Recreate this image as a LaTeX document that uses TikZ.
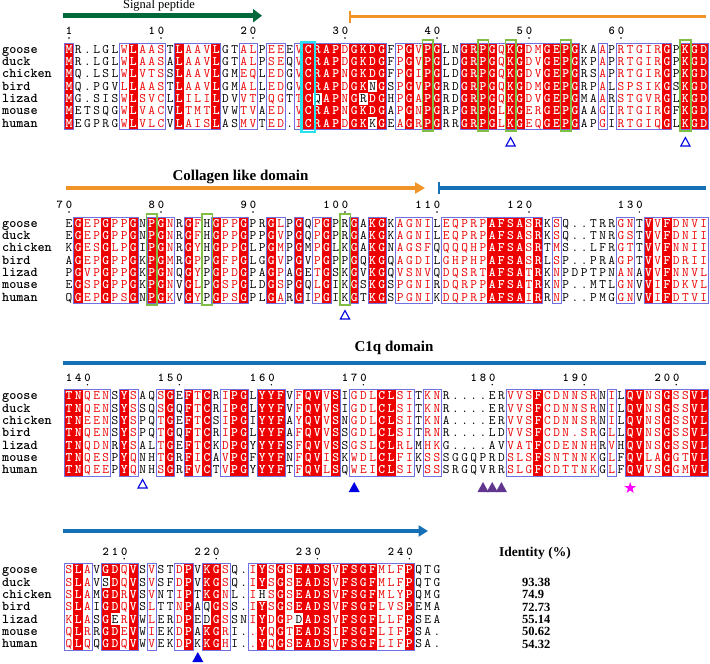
\documentclass[tikz,border=0pt]{standalone}
\usepackage{fontspec}
\setmainfont{Liberation Serif}
\usepackage{xstring}
\usetikzlibrary{arrows.meta, shapes.geometric}
\definecolor{espred}{RGB}{238,0,0}
\definecolor{frameblue}{RGB}{112,112,224}
\definecolor{sigc}{RGB}{0,105,60}
\definecolor{colc}{RGB}{240,148,40}
\definecolor{clqc}{RGB}{22,112,182}
\definecolor{boxg}{RGB}{128,190,70}
\definecolor{boxc}{RGB}{40,225,235}
\definecolor{markb}{RGB}{0,0,225}
\definecolor{markp}{RGB}{96,54,142}
\definecolor{starc}{RGB}{255,0,255}

% column / row geometry (1 unit = 1 px of the figure)
\newcommand\colx{69}
\newcommand\colw{9.2}
\newcommand\rowh{12.35}
\def\consnone{-}
\def\conssim{+}

\newcommand\seqcell[3]{%
  \StrChar{#2}{#3}[\rch]%
  \pgfmathsetmacro\cx{\colx+(#3-1)*\colw}%
  \pgfmathsetmacro\cy{\blocky+(#1-1)*\rowh}%
  \ifx\colcode\consnone
    \node[res] at (\cx,\cy) {\rch};%
  \else\ifx\colcode\conssim
    \node[res, text=espred] at (\cx,\cy) {\rch};%
  \else\ifx\rch\colcode
    \fill[espred] (\cx-\colw/2-0.15,\cy-\rowh/2-0.15) rectangle (\cx+\colw/2+0.15,\cy+\rowh/2+0.15);%
    \node[res, text=white, font=\ttfamily\bfseries\fontsize{13}{13}\selectfont] at (\cx,\cy) {\rch};%
  \else
    \node[res] at (\cx,\cy) {\rch};%
  \fi\fi\fi}

\newcommand\drawframe[2]{%
  \draw[simbox] (\colx+#1*\colw-1.5*\colw,\blocky-\rowh/2) rectangle (\colx+#2*\colw-0.5*\colw,\blocky+6.5*\rowh);}

\newcommand\drawblock[9]{%
  \def\blocky{#1}%
  \def\blockcons{#2}%
  \StrLen{#2}[\ncols]%
  \foreach \cl in {1,...,\ncols}{%
    \StrChar{\blockcons}{\cl}[\colcode]%
    \seqcell{1}{#3}{\cl}\seqcell{2}{#4}{\cl}\seqcell{3}{#5}{\cl}%
    \seqcell{4}{#6}{\cl}\seqcell{5}{#7}{\cl}\seqcell{6}{#8}{\cl}%
    \seqcell{7}{#9}{\cl}}%
  \gdef\runstart{0}%
  \foreach \cl in {1,...,\ncols}{%
    \StrChar{\blockcons}{\cl}[\colcode]%
    \ifx\colcode\consnone
      \ifnum\runstart>0 \drawframe{\runstart}{\the\numexpr\cl-1\relax}\gdef\runstart{0}\fi
    \else
      \ifnum\runstart=0 \xdef\runstart{\cl}\fi
    \fi}%
  \ifnum\runstart>0 \drawframe{\runstart}{\ncols}\fi
  \foreach \nm [count=\i] in {goose,duck,chicken,bird,lizad,mouse,human}
    \node[lab] (\nm-#1) at (2,\blocky+\i*\rowh-\rowh) {\nm};}

\newcommand\numtick[2]{%
  \StrLen{#2}[\nd]%
  \foreach \k in {1,...,\nd}{%
    \StrChar{#2}{\k}[\dg]%
    \node[num] at (\colx+#1*\colw-\nd*\colw+\k*\colw-\colw,\blocky-18.5) {\dg};}%
  \fill (\colx+#1*\colw-\colw,\blocky-11.3) circle (0.8);}

\newcommand\gbox[1]{%
  \draw[boxg, line width=1.6pt] (\colx+#1*\colw-\colw-5.3,\blocky-9.3) rectangle (\colx+#1*\colw-\colw+5.3,\blocky+6*\rowh+7.3);}

\newcommand\opentri[2]{%
  \draw[markb, line width=1.1pt] (\colx+#1*\colw-\colw-4.6,#2+4) -- (\colx+#1*\colw-\colw+4.6,#2+4) -- (\colx+#1*\colw-\colw,#2-4.4) -- cycle;}
\newcommand\filltri[3][markb]{%
  \fill[#1] (\colx+#2*\colw-\colw-5.5,#3+5) -- (\colx+#2*\colw-\colw+5.5,#3+5) -- (\colx+#2*\colw-\colw,#3-5) -- cycle;}

\begin{document}
\begin{tikzpicture}[x=1pt, y=-1pt,
    res/.style={font=\ttfamily\fontsize{13}{13}\selectfont, inner sep=0pt, text height=7.6pt, text depth=0pt},
    lab/.style={font=\ttfamily\bfseries\fontsize{13.5}{13.5}\selectfont, anchor=west, inner sep=0pt, text height=7.6pt, text depth=0pt},
    num/.style={font=\ttfamily\bfseries\fontsize{12}{12}\selectfont, inner sep=0pt, text height=7pt, text depth=0pt},
    simbox/.style={draw=frameblue, line width=0.8pt},
    bar/.style={line width=4pt},
    head/.style={font=\bfseries\fontsize{15}{15}\selectfont, inner sep=0pt}]
  \useasboundingbox (0,0) rectangle (710,664);

  % ---- block 1 : 1-69
  \node[font=\fontsize{12.5}{12.5}\selectfont, inner sep=0pt] (sigtxt) at (159,6) {Signal peptide};
  \draw[sigc, line width=4.5pt, -{Triangle[length=9pt, width=13pt]}] (63,15.7) -- (262,15.7);
  \draw[colc, line width=3.5pt] (350,16.7) -- (706,16.7);
  \draw[colc, line width=2pt] (350,11) -- (350,22.5);
  \drawblock{49.3}{M-----+L+++-L+++L--++-++-+CRAP+GKDG-+G+PG--GRPG+KG++GEPG--+-+++++G-KGD}
    {MR.LGLWLAASTLAAVLGTALPEEEVCRAPDGKDGFPGVPGLNGRPGQKGDMGEPGKAAPRTGIRGPKGD}
    {MR.LGLWLAASALAAVLGTALPSEQVCRAPDGKDGFPGVPGLDGRPGQKGDVGEPGKPAPRTGIRGPKGD}
    {MQ.LSLWLVTSSLAAVLGMEQLEDGVCRAPNGKDGFPGIPGLDGRPGQKGDVGEPGRSAPRTGIRGPKGD}
    {MQ.PGVLLAASTLAAVLGMALLEDGVCRAPDGKNGSPGVPGRDGRPGQKGDMGEPGRPALSPSIKGSKGD}
    {MG.SISWLSVCLLILILDVVTPQGTTCQAPNGRDGHPGAPGRDGRPGQKGDVGEPGMAARSTGVRGLKGD}
    {METSQGWLVACVLTMTLVWTVAED.VCRAPNGKDGAPGNPGRPGRPGLKGERGEPGAAGIRTGIRGFKGD}
    {MEGPRGWLVLCVLAISLASMVTED.ICRAPDGKKGEAGRPGRRGRPGLKGEQGEPGAPGIRTGIQGLKGD}
  \numtick{1}{1}\numtick{11}{10}\numtick{21}{20}\numtick{31}{30}
  \numtick{41}{40}\numtick{51}{50}\numtick{61}{60}
  \gbox{40}\gbox{46}\gbox{49}\gbox{55}\gbox{68}
  \draw[boxc, line width=2.4pt] (301.5,41.7) rectangle (314.9,131.7);
  \opentri{49}{142}\opentri{68}{142}

  % ---- block 2 : 70-137
  \node[head] (coltxt) at (240.5,177) {Collagen like domain};
  \draw[colc, line width=3.5pt, -{Triangle[length=10pt, width=11pt]}] (66,188) -- (425,188);
  \draw[clqc, line width=3.5pt] (439,188) -- (706,188);
  \draw[clqc, line width=2pt] (439,182) -- (439,194);
  \drawblock{223.3}{-G++G++G-PG+-G+-G++G--G+-G-+G--G-KG-++++-+++++AFSA+R-+------++-V+F++++}
    {EGEPGPPGNPGNRGFHGPPGPRGLPGQPGPRGAKGKAGNILEQPRPAFSASRKSQ..TRRGNTVVFDNVI}
    {EGEPGPPGNPGNRGFHGPPGPPGVPGQPGPRGAKGKAGNILEQPRPAFSASRKSQ..TNRGSTVVFDNII}
    {KGESGLPGIPGNRGYHGPPGLPGMPGMPGLKGAKGNAGSFQQQQHPAFSASRTMS..LFRGTTVVFNNII}
    {AGEPGPPGKPGMRGPPGFPGLGGVPGVPGPPGQKGQAGDILGHPHPAFSASRLSP..PRAGPTVVFDRII}
    {PGVPGPPGKPGNQGYPGPDGPAGPAGETGSKGVKGQVSNVQDQSRTAFSATRKNPDPTPNANAVVFNNVL}
    {EGSPGPPGKPGNVGLPGSPGLDGSPGQLGIKGSKGSPGNIRDQRPPAFSATRKNP..MTLGNVVIFDKVL}
    {QGEPGPSGNPGKVGYPGPSGPLGARGIPGIKGTKGSPGNIKDQPRPAFSAIRRNP..PMGGNVVIFDTVI}
  \numtick{1}{70}\numtick{11}{80}\numtick{21}{90}\numtick{31}{100}
  \numtick{41}{110}\numtick{51}{120}\numtick{63}{130}
  \gbox{10}\gbox{16}\gbox{31}
  \opentri{31}{315}

  % ---- block 3 : 138-203
  \node[head] (c1qtxt) at (394,348) {C1q domain};
  \draw[clqc, bar] (63,363) -- (706,363);
  \drawblock{396}{TN+++-Y+--+G-F+C-+PG-YYF-+QV+S-+++CL++-++-------+++F++++++-+-QV++G++VL}
    {TNQENSYSAQSGEFTCRIPGLYYFVFQVVSIGDLCLSITKNR....ERVVSFCDNNSRNILQVNSGSSVL}
    {TNQENSYSSQSGQFTCRIPGLYYFVFQVVSIGDLCLSITKNR....ERVVSFCDNNSRNILQVNSGSSVL}
    {TNEENSYSPQTGEFTCSIPGIYYFAYQVVSNGDLCLSITKNA....ERVVSFCDNNSRNILQVNSGSSVL}
    {TNQENSYSPQTGQFTCRIPGLYYFAFQVVSSGDLCLSITRNR....LDVVSFCDN.SRGLLQVNSGSSVL}
    {TNQDNRYSALTGEFTCKDPGYYYFSFQVVSSGSLCLRLMHKG....AVVATFCDENNHRVHQVNSGSSVL}
    {TNQESPYQNHTGRFICAVPGFYYFNFQVISKWDLCLFIKSSSGGQPRDSLSFSNTNNKGLFQVLAGGTVL}
    {TNQEEPYQNHSGRFVCTVPGYYYFTFQVLSQWEICLSIVSSSRGQVRRSLGFCDTTNKGLFQVVSGGMVL}
  \numtick{3}{140}\numtick{13}{150}\numtick{23}{160}\numtick{33}{170}
  \numtick{47}{180}\numtick{57}{190}\numtick{67}{200}
  \opentri{9}{484}
  \filltri{32}{487}
  \filltri[markp]{46}{487}\filltri[markp]{47}{487}\filltri[markp]{48}{487}
  \node[star, star points=5, star point ratio=2.5, fill=starc, inner sep=0pt, minimum size=12pt] (site) at (\colx+61*\colw,488) {};

  % ---- block 4 : 204-243
  \draw[clqc, bar, -{Triangle[length=9.5pt, width=11pt]}] (63,531) -- (428,531);
  \drawblock{570}{+L+-GD+V-+--+P-KG+--+Y+G+EADS+FSGF+++P---}
    {SLAVGDQVSVSTDPVKGSQ.IYSGSEADSVFSGFMLFPQTG}
    {SLAVSDQVSVSFDPVKGSQ.IYSGSEADSVFSGFMLFPQTG}
    {SLAMGDRVSVNTIPTKGNL.IHSGSEADSVFSGFMLYPQMG}
    {SLAIGDQVSLTTNPAQGSS.IYSGSEADSVFSGFLVSPEMA}
    {KLASGERVWLERDPEDGSSNIYDGPDADSVFSGFLLFPSEA}
    {QLRRGDEVWIEKDPAKGRI..YQGTEADSIFSGFLIFPSA.}
    {QLQQGDQVWVEKDPKKGHI..YQGSEADSVFSGFLIFPSA.}
  \numtick{7}{210}\numtick{17}{220}\numtick{28}{230}\numtick{38}{240}
  \filltri{15}{657}

  \node[font=\bfseries\fontsize{13.5}{13.5}\selectfont, inner sep=0pt] (idhead) at (535,553) {Identity (\%)};
  \foreach \v [count=\i] in {93.38,74.9,72.73,55.14,50.62,54.32}
    \node[font=\bfseries\fontsize{12.5}{12.5}\selectfont, anchor=west, inner sep=0pt] (id\i) at (522,570+\i*\rowh) {\v};
\end{tikzpicture}
\end{document}
